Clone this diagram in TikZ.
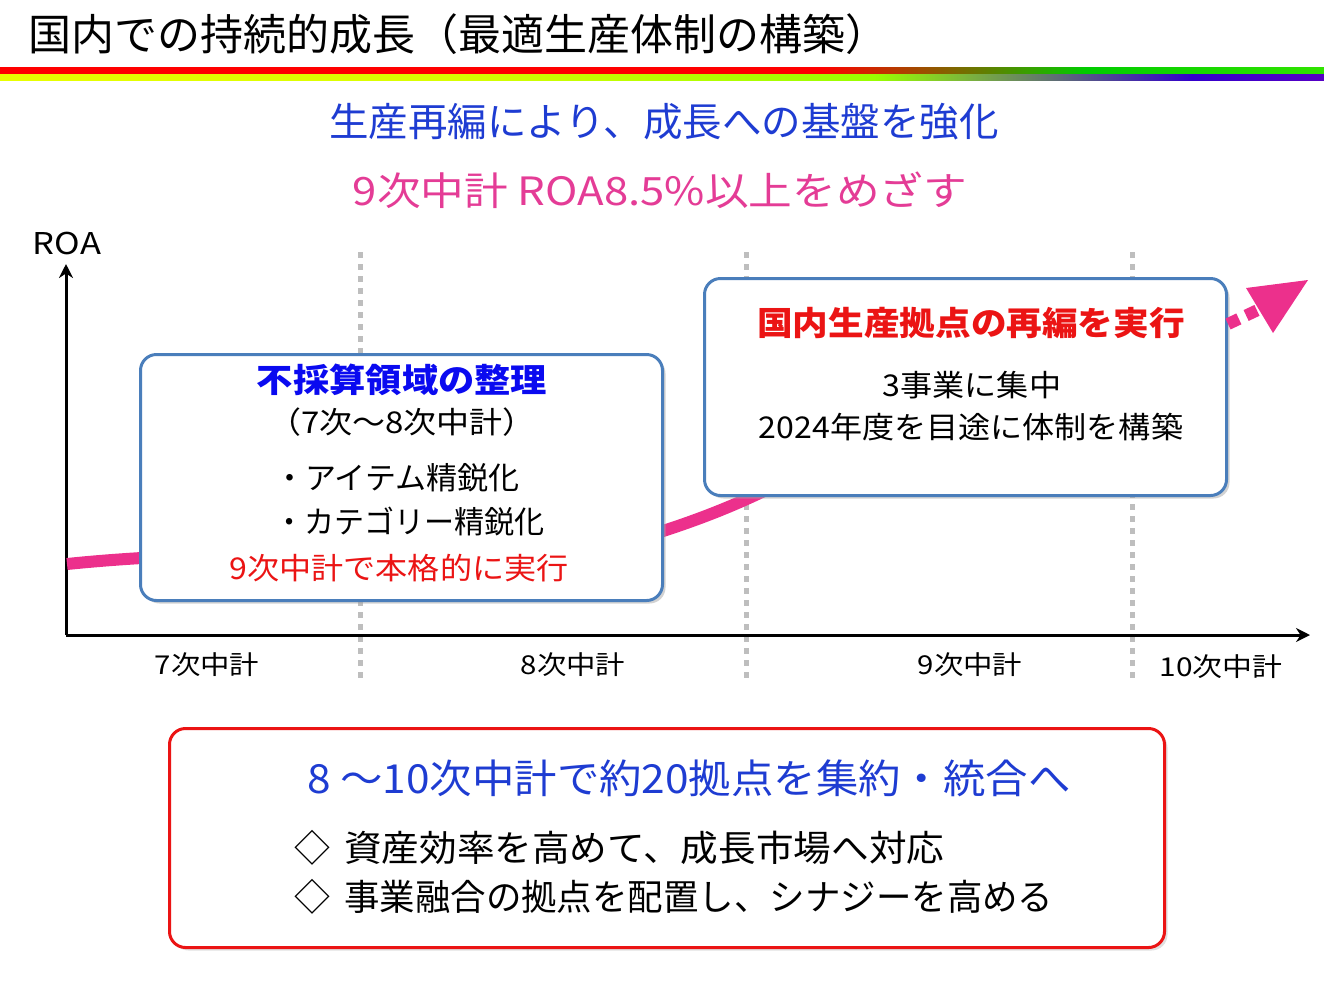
\documentclass[tikz,border=0pt]{standalone}
\usepackage{fontspec}
\setmainfont{Noto Sans CJK JP}
\usetikzlibrary{shadows,arrows.meta}
\definecolor{boxblue}{RGB}{74,126,187}
\definecolor{pinkc}{RGB}{236,48,140}
\definecolor{subblue}{RGB}{30,60,210}
\definecolor{magc}{RGB}{228,60,150}
\definecolor{titleblue}{RGB}{10,10,240}
\definecolor{redc}{RGB}{235,20,20}
\definecolor{gridgray}{RGB}{190,190,190}
\pgfdeclarehorizontalshading{bandA}{100bp}{color(0bp)=(red); color(56bp)=(red); color(66bp)=(green!80!black); color(85bp)=(green!60!yellow); color(100bp)=(yellow)}
\pgfdeclarehorizontalshading{bandB}{100bp}{color(0bp)=(yellow); color(42bp)=(yellow!85!green); color(58bp)=(yellow!60!green); color(70bp)=(blue!60!violet); color(88bp)=(violet!60!magenta); color(100bp)=(cyan!60!blue)}
\newcommand{\hs}[2]{\scalebox{#1}[1]{#2}}
\tikzset{
  fs/.style={font=\fontsize{#1}{#1}\selectfont},
  fsb/.style={font=\fontsize{#1}{#1}\selectfont\bfseries},
  rbox/.style={draw=boxblue, line width=3pt, rounded corners=16pt, fill=white,
    drop shadow={shadow xshift=3pt, shadow yshift=-3pt, fill=black!35, opacity=0.5}},
  gline/.style={draw=gridgray, line width=5pt, dash pattern=on 6pt off 6pt},
  lbl/.style={inner sep=0pt, anchor=center},
}
\begin{document}
\begin{tikzpicture}[x=1pt,y=-1pt]
\useasboundingbox (0,0) rectangle (1324,994);
% title
\node[lbl, anchor=west, fs=43] (title) at (28,34) {国内での持続的成長（最適生産体制の構築）};
\shade[shading=bandA] (0,67) rectangle (1324,74);
\shade[shading=bandB] (0,74) rectangle (1324,80);
% subtitles
\node[lbl, fs=39.5, text=subblue] (sub1) at (664,122) {生産再編により、成長への基盤を強化};
\node[lbl, fs=39, text=magc] (sub2) at (660,190) {\hs{1.12}{9次中計 ROA8.5\%以上をめざす}};
% grid lines
\coordinate (g1t) at (360,252); \coordinate (g1b) at (360,680);
\coordinate (g2t) at (746,252); \coordinate (g2b) at (746,680);
\coordinate (g3t) at (1132,252); \coordinate (g3b) at (1132,682);
\draw[gline] (g1t) -- (g1b);
\draw[gline] (g2t) -- (g2b);
\draw[gline] (g3t) -- (g3b);
% axes
\coordinate (o) at (66,635);
\coordinate (ytop) at (66,264);
\coordinate (xend) at (1310,635);
\draw[line width=3pt, -{Stealth[length=14pt,width=14pt]}] (o) -- (ytop);
\draw[line width=3pt, -{Stealth[length=14pt,width=14pt]}] (o) -- (xend);
\node[lbl, fs=30] (roa) at (67,243) {\hs{1.15}{ROA}};
% curve
\coordinate (c0) at (67,564);
\coordinate (cm) at (660,532);
\coordinate (c1) at (790,478);
\draw[pinkc, line width=12pt] (c0) .. controls (300,540) and (560,568) .. (cm)
  .. controls (700,519) and (740,504) .. (c1);
% axis labels
\node[lbl, fs=26] (l7) at (207,665) {\hs{1.13}{7次中計}};
\node[lbl, fs=26] (l8) at (573,665) {\hs{1.13}{8次中計}};
\node[lbl, fs=26] (l9) at (970,665) {\hs{1.13}{9次中計}};
\node[lbl, fs=26] (l10) at (1221,667) {\hs{1.15}{10次中計}};
% box 1
\node[rbox, minimum width=522pt, minimum height=246pt, anchor=north west] (b1) at (139,353) {};
\node[lbl, fsb=33, text=titleblue] (b1t) at (402,380) {\hs{1.1}{不採算領域の整理}};
\node[lbl, fs=30] (b1a) at (402,422) {\hs{1.1}{（7次～8次中計）}};
\node[lbl, fs=31, anchor=west] (b1b) at (274,478) {・アイテム精鋭化};
\node[lbl, fs=31, anchor=west] (b1c) at (274,522) {\hs{0.97}{・カテゴリー精鋭化}};
\node[lbl, fs=30, text=redc] (b1d) at (399,568) {\hs{1.07}{9次中計で本格的に実行}};
% box 2
\node[rbox, minimum width=522pt, minimum height=217pt, anchor=north west] (b2) at (703,277) {};
\node[lbl, fsb=33, text=redc] (b2t) at (971,323) {\hs{1.08}{国内生産拠点の再編を実行}};
\node[lbl, fs=30] (b2a) at (972,385) {\hs{1.07}{3事業に集中}};
\node[lbl, fs=30] (b2b) at (971,427) {\hs{1.07}{2024年度を目途に体制を構築}};
% pink arrow out of box 2
\coordinate (a0) at (1228,324);
\coordinate (a1) at (1262,308);
\draw[pinkc, line width=12pt, dash pattern=on 12pt off 8pt] (a0) -- (a1);
\coordinate (tip) at (1308,280);
\fill[pinkc] (tip) -- (1246,288) -- (1273,333) -- cycle;
% bottom box
\node[draw=redc, line width=3pt, rounded corners=16pt, fill=white,
  drop shadow={shadow xshift=3pt, shadow yshift=-3pt, fill=black!30, opacity=0.4},
  minimum width=995pt, minimum height=219pt, anchor=north west] (b3) at (168,727) {};
\node[lbl, fs=40, text=subblue] (b3t) at (689,778) {\hs{1.06}{8 ～10次中計で約20拠点を集約・統合へ}};
\node[lbl, fs=36, anchor=west] (b3a) at (294,848) {◇\hspace{14pt}\hs{1.045}{資産効率を高めて、成長市場へ対応}};
\node[lbl, fs=36, anchor=west] (b3b) at (294,897) {◇\hspace{14pt}\hs{0.985}{事業融合の拠点を配置し、シナジーを高める}};
\end{tikzpicture}
\end{document}
